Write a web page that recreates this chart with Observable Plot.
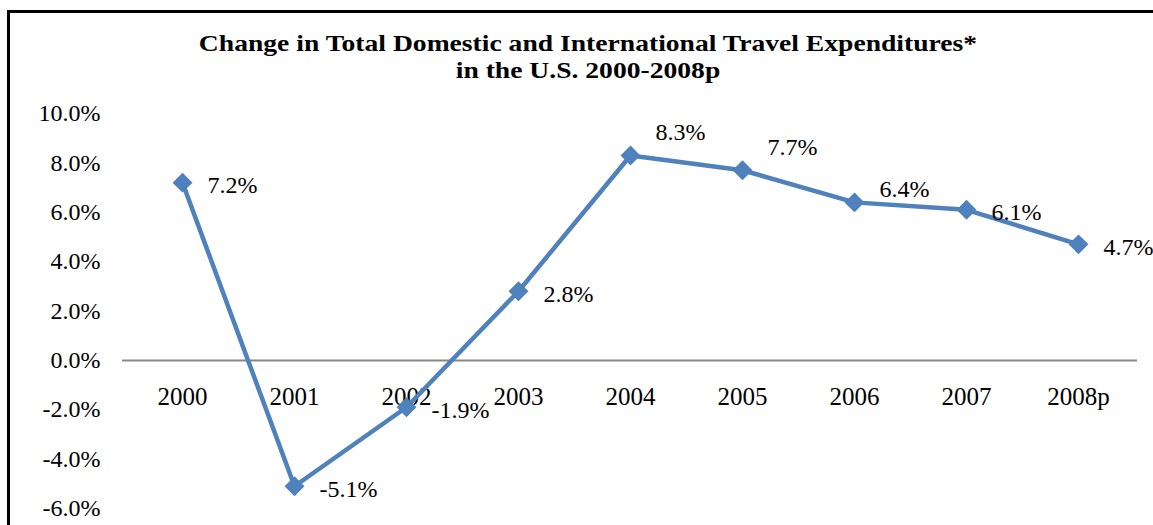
<!DOCTYPE html>
<html>
<head>
<meta charset="utf-8">
<script src="https://cdn.jsdelivr.net/npm/d3@7"></script>
<script src="https://cdn.jsdelivr.net/npm/@observablehq/plot@0.6"></script>
<style>
  html, body { margin: 0; padding: 0; background: #fff; width: 1153px; height: 525px; overflow: hidden; }
  #frame { position: absolute; left: 7px; top: 10px; width: 1300px; height: 700px;
           border-left: 3px solid #000; border-top: 3px solid #000; }
  #title { position: absolute; left: 0; top: 30px; width: 1176px; text-align: center;
           font-family: "Liberation Serif", serif; font-weight: bold; font-size: 23px; line-height: 27px; color: #000;
           transform: scaleX(1.2); transform-origin: 588px 0; }
  #chart { position: absolute; left: 0; top: 95px; }
</style>
</head>
<body>
<div id="frame"></div>
<div id="title">Change in Total Domestic and International Travel Expenditures*<br>in the U.S. 2000-2008p</div>
<div id="chart"></div>
<script>
const years = ["2000", "2001", "2002", "2003", "2004", "2005", "2006", "2007", "2008p"];
const changes = [7.2, -5.1, -1.9, 2.8, 8.3, 7.7, 6.4, 6.1, 4.7];
const yTicks = [10, 8, 6, 4, 2, 0, -2, -4, -6];
// categories whose data labels sit above-right of the marker (as in the original)
const raisedLabels = ["2004", "2005"];
const liftedLabels = ["2006"];

const data = years.map((y, i) => ({year: y, value: changes[i]}));
const pct = d => d.toFixed(1) + "%";
const blue = "#4f81bd";
const labelOpts = { x: "year", y: "value", text: d => pct(d.value), textAnchor: "start", dx: 25, fontSize: 24, fill: "#000" };

const chart = Plot.plot({
  width: 1153,
  height: 430,
  marginTop: 18,
  marginBottom: 17,
  marginLeft: 122,
  marginRight: 16,
  style: { fontFamily: "Liberation Serif, serif", fontSize: "24px", color: "#000", background: "transparent" },
  x: { type: "point", domain: years, padding: 0.5, axis: null },
  y: { domain: [-6, 10], ticks: yTicks, tickFormat: pct },
  marks: [
    Plot.axisY({ ticks: yTicks, tickFormat: pct, tickSize: 0, tickPadding: 22, fontSize: 24, label: null }),
    Plot.ruleY([0], { stroke: "#888888", strokeWidth: 2 }),
    Plot.text(years, { x: d => d, y: () => 0, dy: 37, fontSize: 25, fill: "#000" }),
    Plot.line(data, { x: "year", y: "value", stroke: blue, strokeWidth: 4.5 }),
    Plot.dot(data, { x: "year", y: "value", symbol: "diamond2", r: 8, fill: blue, stroke: blue }),
    Plot.text(data.filter(d => !raisedLabels.includes(d.year) && !liftedLabels.includes(d.year)), { ...labelOpts, dy: 3 }),
    Plot.text(data.filter(d => raisedLabels.includes(d.year)), { ...labelOpts, dy: -23 }),
    Plot.text(data.filter(d => liftedLabels.includes(d.year)), { ...labelOpts, dy: -13 })
  ]
});
document.getElementById("chart").appendChild(chart);
</script>
</body>
</html>
